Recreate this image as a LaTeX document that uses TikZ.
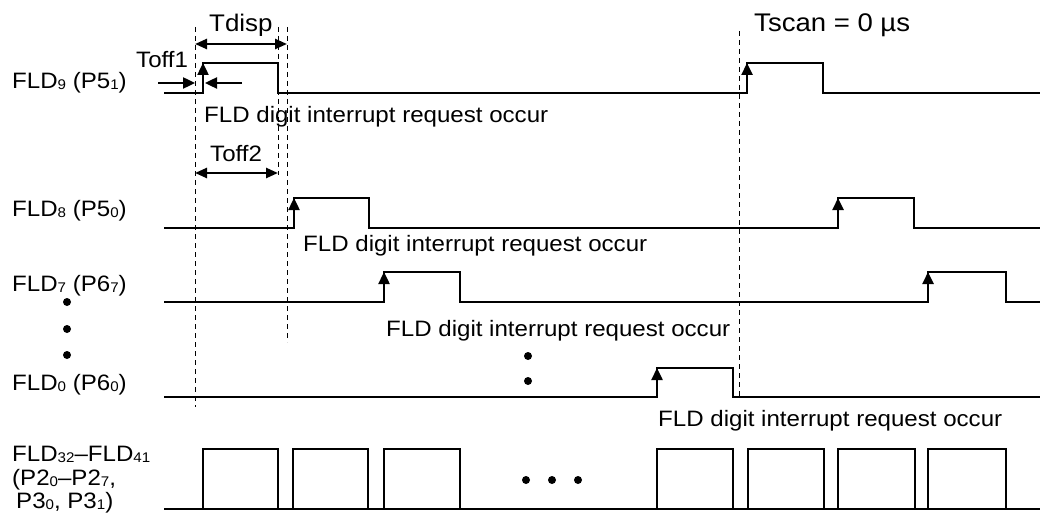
\documentclass[tikz,border=0pt]{standalone}
\usepackage{fontspec}
\setmainfont{Liberation Sans}[FakeStretch=1.08]
\usepackage{tikz}
\usetikzlibrary{arrows.meta}
\newcommand{\sbs}[1]{\raisebox{-1pt}{\fontsize{14}{14}\selectfont #1}}

\begin{document}
\begin{tikzpicture}[x=1pt,y=-1pt,line width=2.4pt,
  lbl/.style={anchor=base west,inner sep=0pt,font=\fontsize{22.3}{26}\selectfont},
  edge/.style={-{Triangle[length=12pt,width=11pt]}},
  dim/.style={{Triangle[length=12pt,width=10pt]}-{Triangle[length=12pt,width=10pt]}},
  guide/.style={line width=0.9pt,dash pattern=on 5pt off 4pt}]
  \useasboundingbox (0,0) rectangle (1040,513);
  \draw[guide] (195,27) -- (195,407);
  \draw[guide] (278,27) -- (278,175);
  \draw[guide] (287,27) -- (287,342);
  \draw[guide] (739,31) -- (739,397);
  \foreach \y/\a/\b/\c/\d in {93/203/278/747/823,228/294/369/838/914,302/384/460/928/1006} {
    \draw (164,\y) -| (\a,\y-30) -| (\b,\y) -| (\c,\y-30) -| (\d,\y) -- (1040,\y);
    \draw[edge] (\a,\y) -- (\a,\y-30);
    \draw[edge] (\c,\y) -- (\c,\y-30);
  }
  \draw (164,397) -| (657,368) -| (733,397) -- (1040,397);
  \draw[edge] (657,397) -- (657,368);
  \draw (164,509) -- (1040,509);
  \foreach \a/\b in {203/278,293/368,384/460,657/733,748/824,838/915,928/1006}
    \draw (\a,509) |- (\b,449) -- (\b,509);
  \draw[dim] (195,44) -- (287,44);
  \draw[dim] (195,173) -- (278,173);
  \draw[edge] (158,83) -- (195,83);
  \draw[edge] (242,83) -- (205,83);
  \foreach \x/\y in {67/302,67/329,67/355,528/356,528/381,526/480,552/480,578/480}
    \fill (\x,\y) circle (4pt);
  \node[lbl,font=\fontsize{24}{28}\selectfont] (tdisp) at (208,32) {Tdisp};
  \node[lbl] (toffa) at (135,68) {Toff1};
  \node[lbl] (toffb) at (209,162) {Toff2};
  \node[lbl,font=\fontsize{25.5}{30}\selectfont] (tscan) at (753,32) {Tscan = 0 µs};
  \node[lbl] (fld9) at (11,89) {FLD\sbs{9} (P5\sbs{1})};
  \node[lbl] (fld8) at (11,216) {FLD\sbs{8} (P5\sbs{0})};
  \node[lbl] (fld7) at (11,291) {FLD\sbs{7} (P6\sbs{7})};
  \node[lbl] (fld0) at (11,390) {FLD\sbs{0} (P6\sbs{0})};
  \node[lbl] (busa) at (11,461) {FLD\sbs{32}–FLD\sbs{41}};
  \node[lbl] (busb) at (11,485) {(P2\sbs{0}–P2\sbs{7},};
  \node[lbl] (busc) at (15,508) {P3\sbs{0}, P3\sbs{1})};
  \node[lbl] (irq9) at (203,123) {FLD digit interrupt request occur};
  \node[lbl] (irq8) at (302,251) {FLD digit interrupt request occur};
  \node[lbl] (irq7) at (385,336) {FLD digit interrupt request occur};
  \node[lbl] (irq0) at (657,426) {FLD digit interrupt request occur};
\end{tikzpicture}
\end{document}
